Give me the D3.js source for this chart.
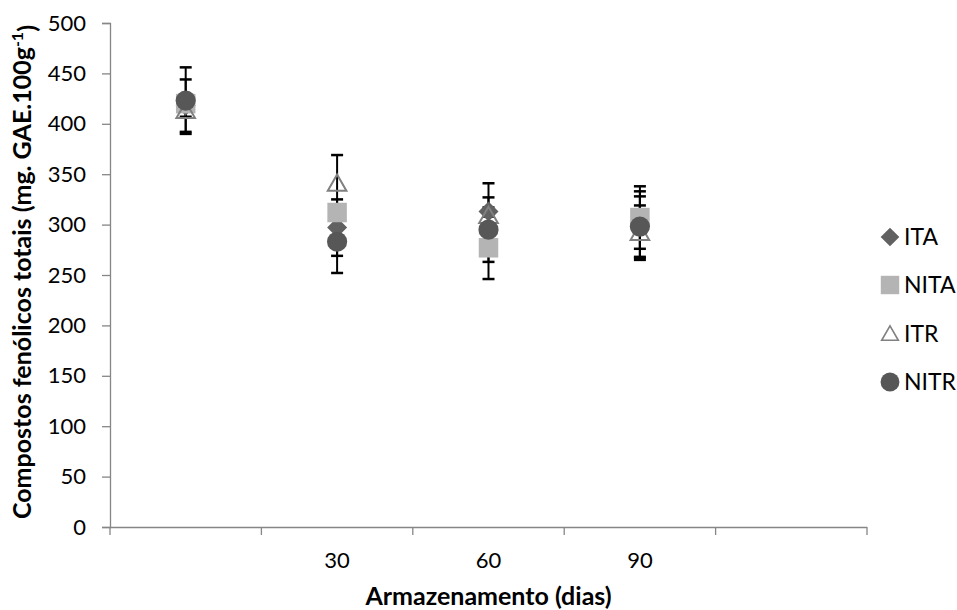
<!DOCTYPE html>
<html><head><meta charset="utf-8">
<script src="https://cdn.jsdelivr.net/npm/d3@7"></script>
<style>body{margin:0;background:#fff;} text{font-family:Lato,"Open Sans",sans-serif;}</style>
</head><body><svg id="c" width="957" height="610"></svg>
<script>
const categories = ["", "30", "60", "90", ""];
const seriesNames = ["ITA", "NITA", "ITR", "NITR"];
const ITA  = [418, 297, 313, 300, null];
const NITA = [420, 312, 277, 307, null];
const ITR  = [413, 341, 309, 292, null];
const NITR = [423, 283, 295, 298, null];
const errITA  = [26, 28, 28, 33, null];
const errNITA = [6, 8, 31, 31, null];
const errITR  = [6, 28, 8, 27, null];
const errNITR = [33, 31, 32, 30, null];
const yTicks = [0, 50, 100, 150, 200, 250, 300, 350, 400, 450, 500];

const values = [ITA, NITA, ITR, NITR];
const errors = [errITA, errNITA, errITR, errNITR];

// square rotated 45 degrees (Excel diamond)
const symbolRhomb = {
  draw(ctx, size) {
    const r = Math.sqrt(size / 2);
    ctx.moveTo(0, -r); ctx.lineTo(r, 0); ctx.lineTo(0, r); ctx.lineTo(-r, 0); ctx.closePath();
  }
};
const styles = [
  {sym: symbolRhomb, size: 200, legSize: 175, fill: "#616161", stroke: "none"},
  {sym: d3.symbolSquare, size: 380, legSize: 340, fill: "#b4b4b4", stroke: "none"},
  {sym: d3.symbolTriangle, size: 150, legSize: 120, fill: "none", stroke: "#808080"},
  {sym: d3.symbolCircle, size: 320, legSize: 280, fill: "#575757", stroke: "none"}
];

const svg = d3.select("#c");
const L = 110, R = 867, T = 23, B = 527;
const x = d3.scaleBand().domain(d3.range(categories.length)).range([L, R]).padding(0);
const y = d3.scaleLinear().domain([0, 500]).range([B, T]);
const axisColor = "#868686";
const labelSize = "22px";

// Y axis
const ya = svg.append("g").attr("transform", `translate(${L},0)`)
  .call(d3.axisLeft(y).tickValues(yTicks).tickSize(8).tickPadding(16));
ya.select(".domain").attr("stroke", axisColor).attr("stroke-width", 1.3);
ya.selectAll(".tick line").attr("stroke", axisColor).attr("stroke-width", 1.3);
ya.selectAll(".tick text").attr("fill", "#000").style("font-size", labelSize).style("font-family", "Lato, sans-serif");

// X axis
const xa = svg.append("g").attr("transform", `translate(0,${B})`)
  .call(d3.axisBottom(x).tickFormat(i => categories[i]).tickSize(0).tickPadding(25));
xa.select(".domain").attr("stroke", axisColor).attr("stroke-width", 1.3).attr("d", `M${L},0.5H${R}`);
xa.selectAll(".tick text").attr("fill", "#000").style("font-size", labelSize).style("font-family", "Lato, sans-serif");
const bounds = d3.range(categories.length + 1).map(i => L + i * x.step());
xa.selectAll(".bt").data(bounds).join("line").attr("class", "bt")
  .attr("x1", d => d).attr("x2", d => d).attr("y1", 0).attr("y2", 8)
  .attr("stroke", axisColor).attr("stroke-width", 1.3);

// Error bars
const eg = svg.append("g");
values.forEach((vals, s) => {
  vals.forEach((v, i) => {
    if (v == null) return;
    const e = errors[s][i];
    const cx = x(i) + x.bandwidth() / 2;
    eg.append("line").attr("x1", cx).attr("x2", cx).attr("y1", y(v + e)).attr("y2", y(v - e))
      .attr("stroke", "#000").attr("stroke-width", 2);
    [v + e, v - e].forEach(c => {
      eg.append("line").attr("x1", cx - 6).attr("x2", cx + 6).attr("y1", y(c)).attr("y2", y(c))
        .attr("stroke", "#000").attr("stroke-width", 2.5);
    });
  });
});

// Markers
values.forEach((vals, s) => {
  const st = styles[s];
  const g = svg.append("g");
  vals.forEach((v, i) => {
    if (v == null) return;
    const cx = x(i) + x.bandwidth() / 2;
    g.append("path").attr("d", d3.symbol().type(st.sym).size(st.size)())
      .attr("transform", `translate(${cx},${y(v) + (s === 2 ? 2 : 0)})`)
      .attr("fill", st.fill).attr("stroke", st.stroke).attr("stroke-width", 2);
  });
});

// Legend
const legY = [237, 285, 334, 382];
seriesNames.forEach((n, s) => {
  const st = styles[s];
  svg.append("path").attr("d", d3.symbol().type(st.sym).size(st.legSize)())
    .attr("transform", `translate(890,${legY[s] + (s === 2 ? 1.5 : 0)})`)
    .attr("fill", st.fill).attr("stroke", st.stroke).attr("stroke-width", 1.6);
  svg.append("text").attr("x", 904).attr("y", legY[s]).attr("dy", "0.36em")
    .style("font-size", "23px").attr("fill", "#000").text(n);
});

// Axis titles
svg.append("text").attr("x", (L + R) / 2).attr("y", 605).attr("text-anchor", "middle")
  .style("font-size", "25px").style("font-weight", "bold").text("Armazenamento (dias)");
const yt = svg.append("text").attr("transform", "translate(31,272) rotate(-90)").attr("text-anchor", "middle")
  .style("font-size", "25px").style("font-weight", "bold");
yt.append("tspan").text("Compostos fenólicos totais (mg. GAE.100g");
yt.append("tspan").attr("dy", "-0.5em").style("font-size", "16px").text("-1");
yt.append("tspan").attr("dy", "0.5em").text(")");
</script></body></html>
